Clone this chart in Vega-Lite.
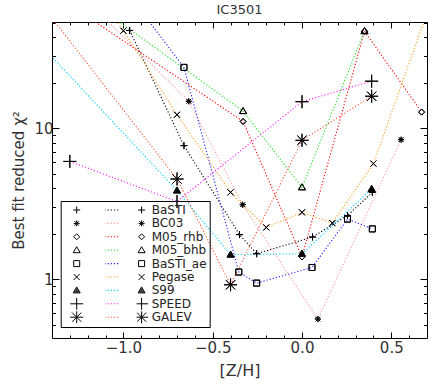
{
  "$schema": "https://vega.github.io/schema/vega-lite/v6.json",
  "width": 375,
  "height": 316,
  "autosize": {"type": "none"},
  "padding": {"left": 52, "top": 22, "right": 9, "bottom": 49},
  "title": {"text": "IC3501", "fontSize": 13, "font": "DejaVu Sans", "fontWeight": "normal", "color": "#333", "offset": 5, "anchor": "middle"},
  "config": {
    "font": "DejaVu Sans",
    "view": {"stroke": null},
    "axis": {"grid": false, "domainColor": "#000", "tickColor": "#000", "labelColor": "#333", "titleColor": "#333", "labelFont": "DejaVu Sans", "titleFont": "DejaVu Sans", "titleFontWeight": "normal", "domainWidth": 1, "tickWidth": 1},
    "legend": {"title": null, "labelFont": "DejaVu Sans", "labelColor": "#222"}
  },
  "data": {"values": [
    {"model": "BaSTI", "z": -0.965, "chi2": 44.4},
    {"model": "BaSTI", "z": -0.661, "chi2": 7.68},
    {"model": "BaSTI", "z": -0.35, "chi2": 1.98},
    {"model": "BaSTI", "z": -0.254, "chi2": 1.48},
    {"model": "BaSTI", "z": 0.059, "chi2": 1.91},
    {"model": "BaSTI", "z": 0.255, "chi2": 2.65},
    {"model": "BaSTI", "z": 0.394, "chi2": 3.77},
    {"model": "BC03", "z": -1.3, "chi2": 90},
    {"model": "BC03", "z": -0.634, "chi2": 15.1},
    {"model": "BC03", "z": -0.332, "chi2": 3.12},
    {"model": "BC03", "z": 0.089, "chi2": 0.547},
    {"model": "BC03", "z": 0.555, "chi2": 8.41},
    {"model": "M05_rhb", "z": -1.35, "chi2": 72},
    {"model": "M05_rhb", "z": -0.33, "chi2": 11.1},
    {"model": "M05_rhb", "z": 0.0, "chi2": 1.41},
    {"model": "M05_rhb", "z": 0.35, "chi2": 43.9},
    {"model": "M05_rhb", "z": 0.67, "chi2": 12.8},
    {"model": "M05_bhb", "z": -1.35, "chi2": 96},
    {"model": "M05_bhb", "z": -0.33, "chi2": 13.0},
    {"model": "M05_bhb", "z": 0.0, "chi2": 4.07},
    {"model": "M05_bhb", "z": 0.35, "chi2": 43.9},
    {"model": "BaSTI_ae", "z": -0.965, "chi2": 75},
    {"model": "BaSTI_ae", "z": -0.661, "chi2": 25.3},
    {"model": "BaSTI_ae", "z": -0.354, "chi2": 1.12},
    {"model": "BaSTI_ae", "z": -0.254, "chi2": 0.946},
    {"model": "BaSTI_ae", "z": 0.056, "chi2": 1.2},
    {"model": "BaSTI_ae", "z": 0.255, "chi2": 2.51},
    {"model": "BaSTI_ae", "z": 0.394, "chi2": 2.16},
    {"model": "Pegase", "z": -1.3, "chi2": 140},
    {"model": "Pegase", "z": -1.0, "chi2": 44.2},
    {"model": "Pegase", "z": -0.7, "chi2": 12.3},
    {"model": "Pegase", "z": -0.4, "chi2": 3.77},
    {"model": "Pegase", "z": -0.2, "chi2": 2.21},
    {"model": "Pegase", "z": 0.0, "chi2": 2.78},
    {"model": "Pegase", "z": 0.17, "chi2": 2.36},
    {"model": "Pegase", "z": 0.4, "chi2": 5.84},
    {"model": "Pegase", "z": 0.7, "chi2": 58},
    {"model": "S99", "z": -1.7, "chi2": 71},
    {"model": "S99", "z": -0.7, "chi2": 3.88},
    {"model": "S99", "z": -0.4, "chi2": 1.46},
    {"model": "S99", "z": 0.0, "chi2": 1.48},
    {"model": "S99", "z": 0.39, "chi2": 3.97},
    {"model": "SPEED", "z": -1.3, "chi2": 6.04},
    {"model": "SPEED", "z": -0.7, "chi2": 3.28},
    {"model": "SPEED", "z": 0.0, "chi2": 15.0},
    {"model": "SPEED", "z": 0.39, "chi2": 20.5},
    {"model": "GALEV", "z": -1.7, "chi2": 153},
    {"model": "GALEV", "z": -0.7, "chi2": 4.62},
    {"model": "GALEV", "z": -0.4, "chi2": 0.922},
    {"model": "GALEV", "z": 0.0, "chi2": 8.33},
    {"model": "GALEV", "z": 0.39, "chi2": 16.3}
  ]},
  "layer": [
    {
      "mark": {"type": "line", "strokeWidth": 1.1, "strokeDash": [1.2, 2], "clip": true},
      "encoding": {
        "x": {"field": "z", "type": "quantitative", "scale": {"domain": [-1.4, 0.7], "nice": false, "zero": false},
          "axis": {"orient": "bottom", "values": [-1, -0.5, 0, 0.5], "format": ".1f", "tickSize": -6, "labelPadding": 8, "labelFontSize": 15, "title": "[Z/H]", "titleFontSize": 16, "titlePadding": 7}},
        "y": {"field": "chi2", "type": "quantitative", "scale": {"type": "log", "domain": [0.41, 50.5], "nice": false},
          "axis": {"orient": "left", "values": [1, 10], "format": "~g", "tickSize": -7, "labelPadding": 6, "labelFontSize": 15, "title": "Best fit reduced χ²", "titleFontSize": 15, "titlePadding": 7}},
        "color": {"field": "model", "type": "nominal",
          "scale": {"domain": ["BaSTI", "BC03", "M05_rhb", "M05_bhb", "BaSTI_ae", "Pegase", "S99", "SPEED", "GALEV"],
            "range": ["#000000", "#ff9a9a", "#ff0000", "#22dd22", "#2222ff", "#ffa020", "#00ccff", "#ff22ff", "#ff5533"]},
          "legend": {"orient": "none", "legendX": 53, "legendY": 182, "padding": 0, "symbolType": "M-28,0H28", "symbolSize": 4, "symbolStrokeWidth": 1.1, "symbolDash": [1.2, 2], "labelExpr": "''", "clipHeight": 12, "rowPadding": 1.4}}
      }
    },
    {
      "mark": {"type": "point", "filled": false, "opacity": 1, "stroke": "black", "strokeWidth": 1, "size": 4, "clip": true},
      "encoding": {
        "x": {"field": "z", "type": "quantitative", "scale": {"domain": [-1.4, 0.7], "nice": false, "zero": false},
          "axis": {"orient": "bottom", "values": [-1.3, -1.2, -1.1, -0.9, -0.8, -0.7, -0.6, -0.4, -0.3, -0.2, -0.1, 0.1, 0.2, 0.3, 0.4, 0.6], "labels": false, "tickSize": -3, "title": null, "domain": false}},
        "y": {"field": "chi2", "type": "quantitative", "scale": {"type": "log", "domain": [0.41, 50.5], "nice": false},
          "axis": {"orient": "left", "values": [0.5, 0.6, 0.7, 0.8, 0.9, 2, 3, 4, 5, 6, 7, 8, 9, 20, 30, 40, 50], "labels": false, "tickSize": -3.5, "title": null, "domain": false}},
        "shape": {"field": "model", "type": "nominal",
          "scale": {"domain": ["BaSTI", "BC03", "M05_rhb", "M05_bhb", "BaSTI_ae", "Pegase", "S99", "SPEED", "GALEV"],
            "range": ["M-3.5,0H3.5M0,-3.5V3.5", "M-3,0H3M0,-3V3M-2.2,-2.2L2.2,2.2M-2.2,2.2L2.2,-2.2", "M0,-3L3,0L0,3L-3,0Z", "M0,-3.5L3.5,2.5H-3.5Z", "M-3,-3H3V3H-3Z", "M-3,-3L3,3M-3,3L3,-3", "M0,-3.5L3.5,2.5H-3.5ZM-2.6,1.6H2.6M-2,0.6H2M-1.4,-0.4H1.4M-0.8,-1.4H0.8", "M-6.5,0H6.5M0,-6.5V6.5", "M-6.5,0H6.5M0,-6.5V6.5M-4.6,-4.6L4.6,4.6M-4.6,4.6L4.6,-4.6"]},
          "legend": {"orient": "none", "legendX": 8.7, "legendY": 179, "padding": 3, "symbolOffset": 7, "labelOffset": 69, "strokeColor": "black", "labelFontSize": 12, "symbolSize": 4, "symbolStrokeWidth": 1, "symbolStrokeColor": "black", "symbolFillColor": "transparent", "clipHeight": 12, "rowPadding": 1.4}}
      }
    },
    {
      "mark": {"type": "point", "filled": false, "opacity": 1, "stroke": "black", "strokeWidth": 1, "size": 4, "clip": true},
      "encoding": {
        "x": {"field": "z", "type": "quantitative", "scale": {"domain": [-1.4, 0.7], "nice": false, "zero": false},
          "axis": {"orient": "top", "values": [-1, -0.5, 0, 0.5], "labels": false, "tickSize": -6, "title": null}},
        "y": {"field": "chi2", "type": "quantitative", "scale": {"type": "log", "domain": [0.41, 50.5], "nice": false},
          "axis": {"orient": "right", "values": [1, 10], "labels": false, "tickSize": -7, "title": null}},
        "shape": {"field": "model", "type": "nominal",
          "scale": {"domain": ["BaSTI", "BC03", "M05_rhb", "M05_bhb", "BaSTI_ae", "Pegase", "S99", "SPEED", "GALEV"],
            "range": ["M-3.5,0H3.5M0,-3.5V3.5", "M-3,0H3M0,-3V3M-2.2,-2.2L2.2,2.2M-2.2,2.2L2.2,-2.2", "M0,-3L3,0L0,3L-3,0Z", "M0,-3.5L3.5,2.5H-3.5Z", "M-3,-3H3V3H-3Z", "M-3,-3L3,3M-3,3L3,-3", "M0,-3.5L3.5,2.5H-3.5ZM-2.6,1.6H2.6M-2,0.6H2M-1.4,-0.4H1.4M-0.8,-1.4H0.8", "M-6.5,0H6.5M0,-6.5V6.5", "M-6.5,0H6.5M0,-6.5V6.5M-4.6,-4.6L4.6,4.6M-4.6,4.6L4.6,-4.6"]},
          "legend": {"orient": "none", "legendX": 84.6, "legendY": 182, "padding": 0, "labelExpr": "''", "symbolSize": 4, "symbolStrokeWidth": 1, "symbolStrokeColor": "black", "symbolFillColor": "transparent", "clipHeight": 12, "rowPadding": 1.4}}
      }
    },
    {
      "mark": {"type": "point", "opacity": 0, "clip": true},
      "encoding": {
        "x": {"field": "z", "type": "quantitative", "scale": {"domain": [-1.4, 0.7], "nice": false, "zero": false},
          "axis": {"orient": "top", "values": [-1.3, -1.2, -1.1, -0.9, -0.8, -0.7, -0.6, -0.4, -0.3, -0.2, -0.1, 0.1, 0.2, 0.3, 0.4, 0.6], "labels": false, "tickSize": -3, "title": null, "domain": false}},
        "y": {"field": "chi2", "type": "quantitative", "scale": {"type": "log", "domain": [0.41, 50.5], "nice": false},
          "axis": {"orient": "right", "values": [0.5, 0.6, 0.7, 0.8, 0.9, 2, 3, 4, 5, 6, 7, 8, 9, 20, 30, 40, 50], "labels": false, "tickSize": -3.5, "title": null, "domain": false}}
      }
    }
  ],
  "resolve": {"axis": {"x": "independent", "y": "independent"}, "legend": {"shape": "independent", "color": "independent"}}
}
